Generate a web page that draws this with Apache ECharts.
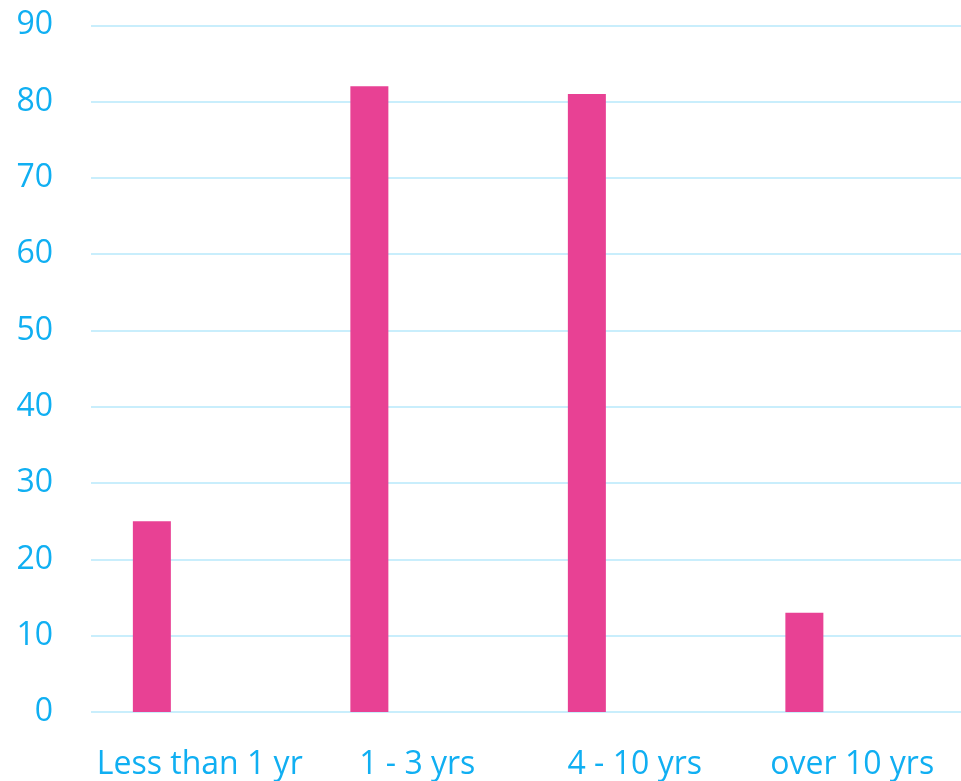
<!DOCTYPE html>
<html>
<head>
<meta charset="utf-8">
<script src="https://cdn.jsdelivr.net/npm/echarts@6/dist/echarts.min.js"></script>
<style>
html,body{margin:0;padding:0;background:#fff;}
#chart{width:961px;height:781px;}
</style>
</head>
<body>
<div id="chart"></div>
<script>
const categories = ['Less than 1 yr', '1 - 3 yrs', '4 - 10 yrs', 'over 10 yrs'];
const values = [25, 82, 81, 13];
const emptySeries = [null, null, null, null];
const yTicks = { min: 0, max: 90, interval: 10 };

const chart = echarts.init(document.getElementById('chart'), null, { renderer: 'canvas' });
chart.setOption({
  animation: false,
  grid: { left: 91, right: 0, top: 25.3, bottom: 69, containLabel: false },
  xAxis: {
    type: 'category',
    data: categories,
    axisLine: { show: false },
    axisTick: { show: false },
    axisLabel: { interval: 0, hideOverlap: false, color: '#10AFF2', fontSize: 32, fontFamily: 'Open Sans', margin: 37 }
  },
  yAxis: {
    type: 'value',
    min: yTicks.min, max: yTicks.max, interval: yTicks.interval,
    axisLine: { show: false },
    axisTick: { show: false },
    axisLabel: { color: '#10AFF2', fontSize: 32, fontFamily: 'Open Sans', margin: 38 },
    splitLine: { lineStyle: { color: '#C9EEFC', width: 2 } }
  },
  series: [
    { type: 'bar', data: values, barWidth: 38, barGap: '152%', itemStyle: { color: '#E84194' } },
    { type: 'bar', data: emptySeries, barWidth: 38, itemStyle: { color: '#E84194' } }
  ]
});
</script>
</body>
</html>
